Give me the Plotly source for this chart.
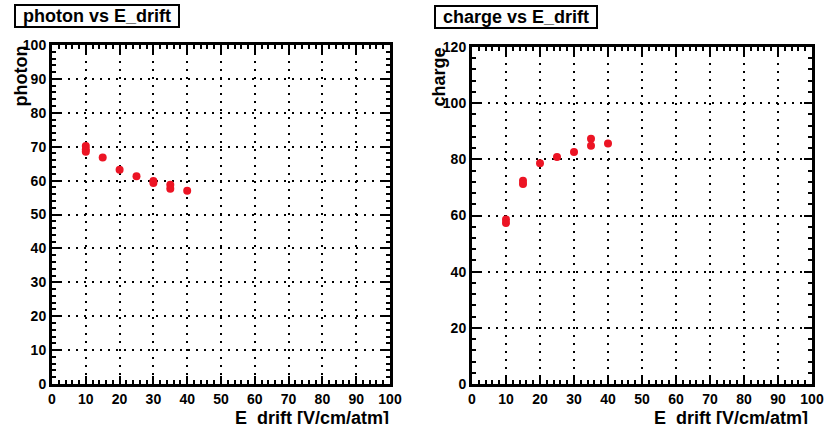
import plotly.graph_objects as go

# ---- data ----
photon_x = [10, 10, 10, 15, 20, 25, 30, 30, 35, 35, 40]
photon_y = [70.2, 69.2, 68.5, 66.8, 63.2, 61.3, 59.9, 59.3, 58.8, 57.6, 57.0]

charge_x = [10, 10, 15, 15, 20, 25, 30, 35, 35, 40]
charge_y = [58.6, 57.3, 72.4, 71.2, 78.6, 80.8, 82.6, 87.3, 84.8, 85.6]

x_ticks = [0, 10, 20, 30, 40, 50, 60, 70, 80, 90, 100]
photon_ticks = [0, 10, 20, 30, 40, 50, 60, 70, 80, 90, 100]
charge_ticks = [0, 20, 40, 60, 80, 100, 120]

W, H = 824, 424
def px(x): return x / W
def py(y): return 1 - y / H

RED = "#ec1424"
fig = go.Figure()
fig.add_trace(go.Scatter(x=photon_x, y=photon_y, mode="markers",
                         marker=dict(color=RED, size=8), xaxis="x", yaxis="y",
                         showlegend=False))
fig.add_trace(go.Scatter(x=charge_x, y=charge_y, mode="markers",
                         marker=dict(color=RED, size=8), xaxis="x2", yaxis="y2",
                         showlegend=False))

tickfont = dict(family="Liberation Sans", size=14, color="black")
common = dict(showline=True, linecolor="black", linewidth=3, mirror="ticks",
              ticks="inside", ticklen=8, tickwidth=2, tickcolor="black",
              showgrid=True, gridcolor="black", gridwidth=2, griddash="2px,6px",
              zeroline=False, tickfont=tickfont, automargin=False)

def xa(domain, anchor):
    return dict(domain=domain, anchor=anchor, range=[0, 100], tickvals=x_ticks,
                ticktext=[f"<b>{t}</b>" for t in x_ticks],
                minor=dict(ticks="inside", ticklen=4, tickwidth=1.5, tickcolor="black",
                           dtick=2, showgrid=False), **common)

def ya(domain, anchor, rng, ticks, mdt):
    return dict(domain=domain, anchor=anchor, range=rng, tickvals=ticks,
                ticktext=[f"<b>{t}</b>" for t in ticks],
                minor=dict(ticks="inside", ticklen=4, tickwidth=1.5, tickcolor="black",
                           dtick=mdt, showgrid=False), **common)

fig.update_layout(
    width=W, height=H, margin=dict(l=0, r=0, t=0, b=0, autoexpand=False),
    paper_bgcolor="white", plot_bgcolor="white",
    xaxis=xa([px(52), px(390)], "y"),
    yaxis=ya([py(384), py(45)], "x", [0, 100], photon_ticks, 2),
    xaxis2=xa([px(472), px(812)], "y2"),
    yaxis2=ya([py(384), py(47)], "x2", [0, 120], charge_ticks, 4),
)

titlefont = dict(family="Liberation Sans", size=18, color="black")
anns = [
    dict(text="<b>photon vs E_drift</b>", x=px(14), y=py(4), width=162),
    dict(text="<b>charge vs E_drift</b>", x=px(434), y=py(5), width=160),
]
for a in anns:
    fig.add_annotation(xref="paper", yref="paper", xanchor="left", yanchor="top",
                       showarrow=False, font=titlefont, bordercolor="black",
                       borderwidth=2, borderpad=0, bgcolor="white", height=20,
                       align="center", **a)

axfont = dict(family="Liberation Sans", size=18, color="black")
fig.add_annotation(text="<b>photon</b>", xref="paper", yref="paper", x=px(20), y=py(44),
                   xanchor="center", yanchor="top", textangle=-90, showarrow=False, font=axfont)
fig.add_annotation(text="<b>charge</b>", xref="paper", yref="paper", x=px(438), y=py(46),
                   xanchor="center", yanchor="top", textangle=-90, showarrow=False, font=axfont)
fig.add_annotation(text="<b>E_drift [V/cm/atm]</b>", xref="paper", yref="paper", x=px(391), y=py(406),
                   xanchor="right", yanchor="top", showarrow=False, font=axfont)
fig.add_annotation(text="<b>E_drift [V/cm/atm]</b>", xref="paper", yref="paper", x=px(810), y=py(406),
                   xanchor="right", yanchor="top", showarrow=False, font=axfont)

fig.write_html("out.html")
